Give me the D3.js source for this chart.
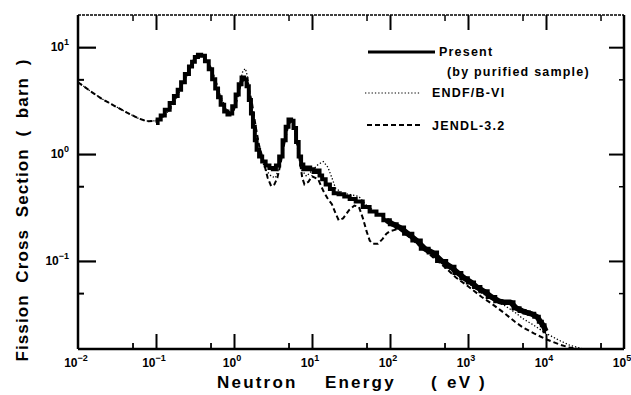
<!DOCTYPE html>
<html><head><meta charset="utf-8">
<script src="https://cdn.jsdelivr.net/npm/d3@7"></script>
<style>
body{margin:0;background:#fff;}
svg{display:block;}
text{font-family:"Liberation Sans",Arial,sans-serif;font-weight:bold;fill:#000;}
</style></head>
<body><svg id="c" width="631" height="395"></svg>
<script>
// ---------- data ----------
const presentE = [0.1,0.11,0.12,0.14,0.16,0.18,0.2,0.22,0.25,0.28,0.3,0.33,0.36,0.4,0.45,0.5,0.55,0.6,0.65,0.7,0.8,0.85,0.9,1.0,1.1,1.2,1.3,1.4,1.5,1.6,1.7,1.8,1.9,2.0,2.2,2.4,2.7,3.0,3.3,3.6,4.0,4.4,4.8,5.2,5.6,6.0,6.5,7.0,7.5,8,9,10,11,12,13,14,16,18,20,24,28,33,40,50,60,75,90,110,135,170,220,280,350,460,600,750,900,1100,1300,1600,2000,2500,2900,3500,4200,5000,5600,6500,7700,8500,9200,10000];
const presentS = [1.95,2.1,2.3,2.6,3.0,3.5,4.0,4.7,5.6,6.6,7.3,8.1,8.5,8.3,7.4,6.2,5.0,4.1,3.4,2.9,2.5,2.35,2.4,2.8,3.6,4.5,5.2,5.0,4.3,3.2,2.4,1.8,1.35,1.1,0.95,0.85,0.78,0.74,0.72,0.78,0.95,1.35,1.8,2.1,2.05,1.75,1.3,0.95,0.8,0.72,0.75,0.72,0.68,0.7,0.63,0.58,0.52,0.47,0.43,0.42,0.40,0.38,0.36,0.32,0.29,0.27,0.24,0.22,0.205,0.18,0.155,0.13,0.12,0.10,0.088,0.077,0.069,0.063,0.057,0.052,0.046,0.042,0.041,0.041,0.036,0.034,0.033,0.032,0.030,0.027,0.025,0.022];

const endfE = [0.01,0.015,0.02,0.03,0.04,0.05,0.06,0.07,0.08,0.1,0.12,0.15,0.2,0.25,0.3,0.35,0.4,0.5,0.6,0.7,0.8,0.9,1.0,1.1,1.2,1.3,1.4,1.5,1.6,1.8,2.0,2.3,2.6,3.0,3.4,3.8,4.2,4.7,5.2,5.7,6.2,6.8,7.5,8.5,10,12,14,16,18,20,25,30,40,50,60,80,100,150,200,300,500,700,1000,1500,2000,3000,4000,5000,7000,10000,15000,20000,30000];
const endfS = [4.7,3.8,3.3,2.8,2.5,2.3,2.15,2.07,2.03,2.05,2.2,2.6,3.8,5.5,7.5,8.5,8.2,6.5,4.5,3.2,2.6,2.4,2.7,3.6,4.8,6.0,6.3,5.2,3.6,2.0,1.2,0.85,0.7,0.62,0.6,0.75,1.1,1.6,2.1,2.0,1.5,1.0,0.7,0.62,0.7,0.8,0.85,0.75,0.6,0.48,0.43,0.42,0.40,0.33,0.30,0.26,0.23,0.19,0.16,0.125,0.092,0.075,0.062,0.05,0.044,0.038,0.033,0.029,0.025,0.021,0.018,0.0163,0.015];

const jendlE = [0.01,0.015,0.02,0.03,0.04,0.05,0.06,0.07,0.08,0.1,0.12,0.15,0.2,0.25,0.3,0.35,0.4,0.5,0.6,0.7,0.8,0.9,1.0,1.1,1.2,1.35,1.5,1.7,1.9,2.1,2.4,2.7,3.0,3.3,3.6,4.0,4.5,5.0,5.5,6.0,6.5,7.0,7.5,8.0,9,10,12,14,16,18,20,22,25,30,35,40,45,50,55,60,70,80,90,100,130,200,300,500,700,1000,1500,2000,3000,4000,5000,7000,10000,15000,20000,25000,30000];
const jendlS = [4.7,3.8,3.3,2.8,2.5,2.3,2.15,2.07,2.03,2.05,2.2,2.6,3.8,5.5,7.5,8.5,8.2,6.5,4.5,3.2,2.6,2.4,2.6,3.3,4.3,5.2,4.6,3.0,1.8,1.2,0.85,0.6,0.5,0.52,0.6,0.85,1.35,1.9,2.05,1.7,1.2,0.85,0.6,0.52,0.55,0.62,0.58,0.45,0.38,0.34,0.28,0.24,0.25,0.30,0.33,0.32,0.25,0.19,0.155,0.145,0.145,0.16,0.18,0.19,0.2,0.155,0.12,0.088,0.07,0.058,0.046,0.040,0.032,0.027,0.024,0.021,0.0185,0.0165,0.0155,0.0151,0.015];

const xTickExps = [-2,-1,0,1,2,3,4,5];
const yTickExps = [1,0,-1];
const legendLabels = ["Present","(by purified sample)","ENDF/B-VI","JENDL-3.2"];
const xTitleWords = ["Neutron","Energy","(","eV",")"];
const yTitle = "Fission  Cross  Section  (  barn  )";

// ---------- layout ----------
const L=78, R=624, T=15, B=349;
const svg = d3.select("#c");
const x = d3.scaleLog().domain([1e-2,1e5]).range([L,R]);
const y = d3.scaleLog().domain([0.015,20]).range([B,T]);

svg.append("clipPath").attr("id","clip").append("rect")
  .attr("x",L).attr("y",T).attr("width",R-L).attr("height",B-T);

const g = svg.append("g");

const xMinor = xTickExps.slice(0,-1).map(e=>5*Math.pow(10,e));
const xMajor = xTickExps.map(e=>Math.pow(10,e));
const yMajor = yTickExps.map(e=>Math.pow(10,e));
const yMinor = [5,0.5,0.05];

const bottomMaj = d3.axisBottom(x).tickValues(xMajor.slice(1,-1)).tickSize(-15).tickFormat("");
const bottomMin = d3.axisBottom(x).tickValues(xMinor).tickSize(-6).tickFormat("");
const topMaj = d3.axisTop(x).tickValues(xMajor.slice(1,-1)).tickSize(-15).tickFormat("");
const topMin = d3.axisTop(x).tickValues(xMinor).tickSize(-6).tickFormat("");
const leftMaj = d3.axisLeft(y).tickValues(yMajor).tickSize(-18).tickFormat("");
const leftMin = d3.axisLeft(y).tickValues(yMinor).tickSize(-6).tickFormat("");
const rightMaj = d3.axisRight(y).tickValues(yMajor).tickSize(-15).tickFormat("");
const rightMin = d3.axisRight(y).tickValues(yMinor).tickSize(-5).tickFormat("");

function put(ax, tr, w){
  const a = g.append("g").attr("transform",tr).call(ax);
  a.select(".domain").remove();
  a.selectAll(".tick line").attr("stroke","#000").attr("stroke-width",w);
}
put(bottomMaj,`translate(0,${B})`,2);
put(bottomMin,`translate(0,${B})`,1.8);
put(topMaj,`translate(0,${T})`,2);
put(topMin,`translate(0,${T})`,1.5);
put(leftMaj,`translate(${L},0)`,2.2);
put(leftMin,`translate(${L},0)`,2);
put(rightMaj,`translate(${R},0)`,2);
put(rightMin,`translate(${R},0)`,1.5);

// frame
g.append("line").attr("x1",L).attr("x2",L).attr("y1",T).attr("y2",B).attr("stroke","#000").attr("stroke-width",2.5);
g.append("line").attr("x1",L).attr("x2",R).attr("y1",B).attr("y2",B).attr("stroke","#000").attr("stroke-width",2.5);
g.append("line").attr("x1",R).attr("x2",R).attr("y1",T).attr("y2",B).attr("stroke","#000").attr("stroke-width",2.5);
g.append("line").attr("x1",L).attr("x2",R).attr("y1",T).attr("y2",T).attr("stroke","#000").attr("stroke-width",1.5).attr("stroke-dasharray","3,1");

// tick labels
xTickExps.forEach(e=>{
  const t = g.append("text").attr("x",x(Math.pow(10,e))-2).attr("y",367).attr("text-anchor","middle").attr("font-size",12);
  t.append("tspan").text("10");
  t.append("tspan").attr("dy",-6).attr("font-size",9).text(e<0?"\u2212"+(-e):String(e));
});
yTickExps.forEach(e=>{
  const t = g.append("text").attr("x",69).attr("y",y(Math.pow(10,e))+4).attr("text-anchor","end").attr("font-size",12);
  t.append("tspan").text("10");
  t.append("tspan").attr("dy",-6).attr("font-size",9).text(e<0?"\u2212"+(-e):String(e));
});

// axis titles
const xWordPos=[217,325,431,447,479];
xTitleWords.forEach((w,i)=>{
  g.append("text").attr("x",xWordPos[i]).attr("y",388).attr("font-size",17).attr("letter-spacing",2.2).text(w);
});
g.append("text").attr("transform","translate(28,210) rotate(-90)").attr("text-anchor","middle")
  .attr("font-size",17).attr("letter-spacing",1.1).style("white-space","pre").text(yTitle);

// series
const line = d3.line().x(d=>x(d[0])).y(d=>y(d[1]));
const plot = g.append("g").attr("clip-path","url(#clip)");
plot.append("path").datum(d3.zip(endfE,endfS)).attr("d",line)
  .attr("fill","none").attr("stroke","#000").attr("stroke-width",1.3).attr("stroke-dasharray","1.3,2");
plot.append("path").datum(d3.zip(jendlE,jendlS)).attr("d",line)
  .attr("fill","none").attr("stroke","#000").attr("stroke-width",2).attr("stroke-dasharray","5,3");
const presentPts = d3.zip(presentE,presentS);
plot.append("path").datum(presentPts).attr("d",d3.line().x(d=>x(d[0])).y(d=>y(d[1])).curve(d3.curveStep))
  .attr("fill","none").attr("stroke","#000").attr("stroke-width",4);
// dense band of data points above ~100 eV
plot.append("path").datum(presentPts.filter(d=>d[0]>=90)).attr("d",line)
  .attr("fill","none").attr("stroke","#000").attr("stroke-width",5.5).attr("stroke-linejoin","round");

// legend
const lg = g.append("g");
lg.append("line").attr("x1",368).attr("x2",435).attr("y1",52).attr("y2",52).attr("stroke","#000").attr("stroke-width",3);
lg.append("line").attr("x1",365).attr("x2",420).attr("y1",93).attr("y2",93).attr("stroke","#000").attr("stroke-width",1.2).attr("stroke-dasharray","1.3,2");
lg.append("line").attr("x1",367).attr("x2",420).attr("y1",125).attr("y2",125).attr("stroke","#000").attr("stroke-width",2).attr("stroke-dasharray","5,3");
const lx=[439,447,432,432], ly=[56,76,97,130];
legendLabels.forEach((s,i)=>{
  lg.append("text").attr("x",lx[i]).attr("y",ly[i]).attr("font-size",12.5).attr("letter-spacing",1.2).text(s);
});
</script></body></html>
